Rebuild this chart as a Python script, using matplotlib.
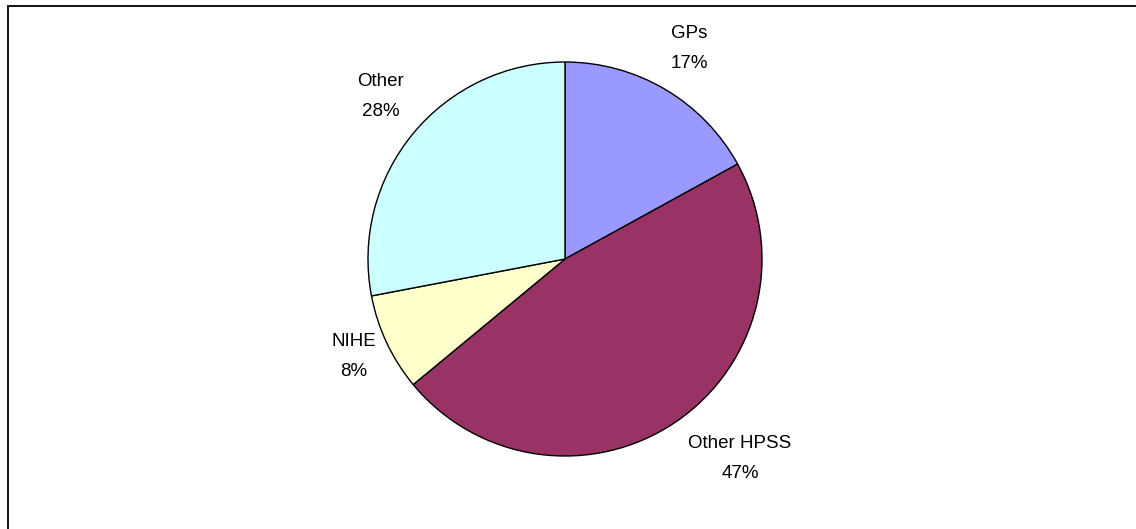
import matplotlib
matplotlib.use("Agg")
import matplotlib.pyplot as plt
from matplotlib.patches import Rectangle

categories = ["GPs", "Other HPSS", "NIHE", "Other"]
values = [17, 47, 8, 28]
colors = ["#9999FF", "#993366", "#FFFFCC", "#CCFFFF"]

W, H = 1136, 529
fig = plt.figure(figsize=(W / 100, H / 100), dpi=100)
plt.rcParams['font.family'] = ['Liberation Sans', 'DejaVu Sans']

# outer border (extends past right/bottom edges)
fig.patches.append(Rectangle((7.5 / W, -0.1), 1.2, (H - 6.5) / H + 0.1,
                             transform=fig.transFigure, fill=False,
                             edgecolor="black", linewidth=1.3))

cx, cy, r = 565, 259, 197
ax = fig.add_axes([(cx - r) / W, (H - cy - r) / H, 2 * r / W, 2 * r / H])
ax.pie(values, colors=colors, startangle=90, counterclock=False, radius=1,
       wedgeprops=dict(edgecolor="black", linewidth=1.0))
ax.set_xlim(-1, 1)
ax.set_ylim(-1, 1)
ax.axis("off")

# label line centres in pixels: (x, y of name line, y of percent line)
label_px = {
    "GPs": (689, 31, 61),
    "Other HPSS": (740, 441, 471),
    "NIHE": (354, 340, 369),
    "Other": (381, 80, 109),
}
for cat, v in zip(categories, values):
    px, y1, y2 = label_px[cat]
    fig.text(px / W, 1 - y1 / H, cat, ha="center", va="center_baseline",
             fontsize=13.5, color="black")
    fig.text(px / W, 1 - y2 / H, f"{v}%", ha="center", va="center_baseline",
             fontsize=13.5, color="black")

fig.savefig("out.png", dpi=100)
